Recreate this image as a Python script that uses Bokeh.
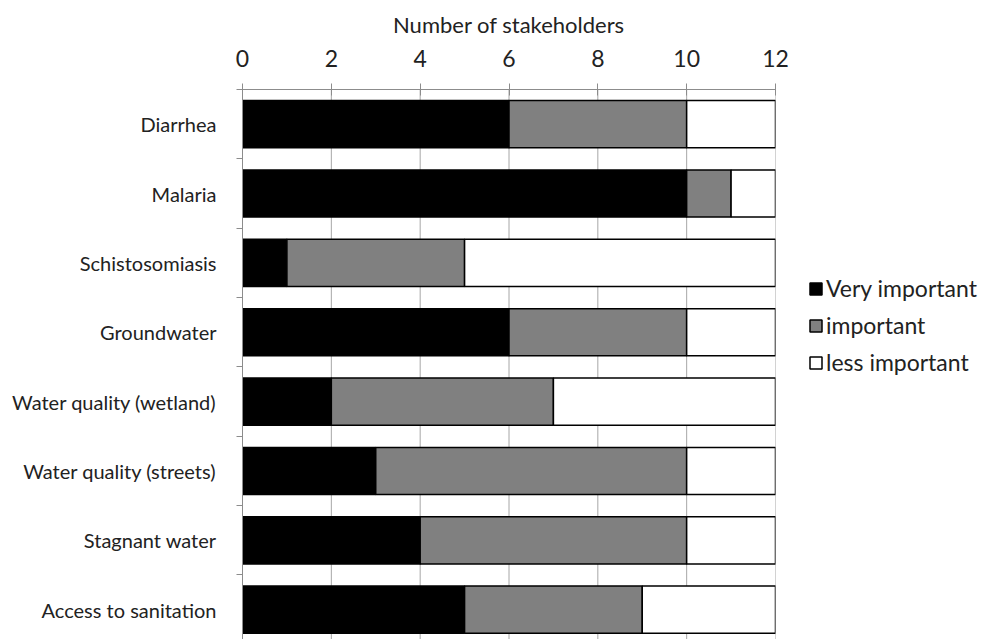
from bokeh.plotting import figure
from bokeh.models import Range1d, FixedTicker, Legend, LegendItem, LinearAxis, ColumnDataSource
from bokeh.embed import file_html
from bokeh.resources import INLINE

categories = ["Diarrhea", "Malaria", "Schistosomiasis", "Groundwater",
              "Water quality (wetland)", "Water quality (streets)",
              "Stagnant water", "Access to sanitation"]
very_important = [6, 10, 1, 6, 2, 3, 4, 5]
important = [4, 1, 4, 4, 5, 7, 6, 4]
less_important = [2, 1, 7, 2, 5, 2, 2, 3]
series_names = ["Very important", "important", "less important"]
series_colors = ["#000000", "#808080", "#ffffff"]
x_ticks = [0, 2, 4, 6, 8, 10, 12]

FONT = "Lato"
n = len(categories)
ypos = [n - i - 0.5 for i in range(n)]

p = figure(frame_width=533, frame_height=550, width=989, height=639,
           x_range=Range1d(0, 12), y_range=Range1d(0.07, n),
           x_axis_location=None, y_axis_location=None,
           output_backend="svg", toolbar_location=None,
           min_border_left=242, min_border_top=89, min_border_bottom=0,
           min_border_right=0)
p.outline_line_color = None
p.background_fill_color = "white"
p.xgrid.visible = False
p.ygrid.visible = False

# vertical grid lines
p.segment(x0=x_ticks[1:], x1=x_ticks[1:], y0=[0] * 6, y1=[n] * 6,
          line_color="#a6a6a6", line_width=1)

# bars
series = [very_important, important, less_important]
left = [0] * n
renderers = []
for vals, name, col in zip(series, series_names, series_colors):
    right = [l + v for l, v in zip(left, vals)]
    src = ColumnDataSource(dict(y=ypos, left=left, right=right))
    r = p.hbar(y="y", left="left", right="right", height=0.68, source=src,
               fill_color=col, line_color="black", line_width=1.5)
    renderers.append(r)
    left = right

# top axis
xaxis = LinearAxis(ticker=FixedTicker(ticks=x_ticks), axis_label="Number of stakeholders")
xaxis.axis_line_color = "#8c8c8c"
xaxis.major_tick_line_color = "#8c8c8c"
xaxis.major_tick_in = 6
xaxis.major_tick_out = 6
xaxis.minor_tick_line_color = None
xaxis.major_label_text_font = FONT
xaxis.major_label_text_font_size = "23px"
xaxis.major_label_text_color = "#222222"
xaxis.major_label_standoff = 17
xaxis.axis_label_text_font = FONT
xaxis.axis_label_text_font_size = "22px"
xaxis.axis_label_text_font_style = "normal"
xaxis.axis_label_text_color = "#222222"
xaxis.axis_label_standoff = 9
p.add_layout(xaxis, "above")

# left axis
yaxis = LinearAxis(ticker=FixedTicker(ticks=ypos, minor_ticks=list(range(n + 1))))
yaxis.major_label_overrides = {y: c for y, c in zip(ypos, categories)}
yaxis.axis_line_color = "#8c8c8c"
yaxis.major_tick_line_color = None
yaxis.major_tick_out = 0
yaxis.major_tick_in = 0
yaxis.minor_tick_line_color = "#8c8c8c"
yaxis.minor_tick_out = 6
yaxis.minor_tick_in = 0
yaxis.major_label_text_font = FONT
yaxis.major_label_text_font_size = "20px"
yaxis.major_label_text_color = "#222222"
yaxis.major_label_standoff = 20
p.add_layout(yaxis, "left")

legend = Legend(items=[LegendItem(label=nm, renderers=[r]) for nm, r in zip(series_names, renderers)],
                location=(33, 263))
legend.border_line_color = None
legend.background_fill_alpha = 0
legend.label_text_font = FONT
legend.label_text_font_size = "23px"
legend.label_text_color = "#222222"
legend.glyph_width = 15
legend.glyph_height = 15
legend.label_standoff = 3
legend.spacing = 9
legend.padding = 0
legend.margin = 0
p.add_layout(legend, "right")

open("out.html", "w").write(file_html(p, INLINE))
